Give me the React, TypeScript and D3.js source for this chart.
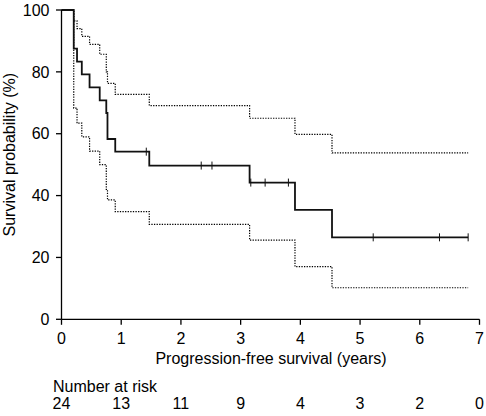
import React from "react";
import * as d3 from "d3";

const eventTimes = [0, 0.205, 0.26, 0.34, 0.47, 0.64, 0.75, 0.77, 0.9, 1.47, 3.15, 3.91, 4.53];
const survival = [100, 87.5, 83.3, 79.2, 75.0, 70.8, 66.7, 58.3, 54.2, 49.7, 44.2, 35.4, 26.5];
const upperCI = [100, 96.5, 94, 91.5, 88.9, 85.7, 80, 76.3, 72.7, 69.1, 65.0, 59.8, 53.8];
const lowerCI = [100, 68.3, 63.4, 59.0, 54.4, 50.0, 42.0, 38.6, 34.8, 30.7, 25.6, 17.0, 10.2];
const endTime = 6.81;
const censorTimes = [1.42, 2.34, 2.52, 3.17, 3.41, 3.8, 5.22, 6.33, 6.81];
const xTicks = [0, 1, 2, 3, 4, 5, 6, 7];
const yTicks = [0, 20, 40, 60, 80, 100];
const atRisk = [24, 13, 11, 9, 4, 3, 2, 0];

const FONT = "'Liberation Sans', Arial, Helvetica, sans-serif";

export default function App() {
  const W = 486, H = 416;
  const x = d3.scaleLinear().domain([0, 7]).range([61.5, 479.5]);
  const y = d3.scaleLinear().domain([0, 100]).range([319.3, 10]);

  const mk = (vals: number[]) => {
    const pts: [number, number][] = eventTimes.map((t, i) => [t, vals[i]]);
    pts.push([endTime, vals[vals.length - 1]]);
    return d3
      .line<[number, number]>()
      .x((d) => x(d[0]))
      .y((d) => y(d[1]))
      .curve(d3.curveStepAfter)(pts) as string;
  };

  const survAt = (t: number) => {
    let v = survival[0];
    eventTimes.forEach((et, i) => {
      if (et <= t) v = survival[i];
    });
    return v;
  };

  const y0 = y(0);
  const x0 = x(0);
  const fs = 16;

  return (
    <svg
      width={W}
      height={H}
      style={{ position: "absolute", left: 0, top: 0, background: "#fff" }}
      fontFamily={FONT}
    >
      <rect x={0} y={0} width={W} height={H} fill="#fff" />
      {/* CI lines */}
      <path d={mk(upperCI)} fill="none" stroke="#000" strokeWidth={1.2} strokeDasharray="1.3,1.3" />
      <path d={mk(lowerCI)} fill="none" stroke="#000" strokeWidth={1.2} strokeDasharray="1.3,1.3" />
      {/* survival */}
      <path d={mk(survival)} fill="none" stroke="#111" strokeWidth={1.8} />
      {censorTimes.map((t, i) => (
        <line key={i} x1={x(t)} x2={x(t)} y1={y(survAt(t)) - 4} y2={y(survAt(t)) + 4} stroke="#111" strokeWidth={1} />
      ))}
      {/* axes */}
      <line x1={x0} x2={x0} y1={y(100)} y2={y0} stroke="#000" strokeWidth={1.3} />
      <line x1={x0} x2={x(7)} y1={y0} y2={y0} stroke="#000" strokeWidth={1.3} />
      {yTicks.map((v) => (
        <g key={v}>
          <line x1={x0 - 5.5} x2={x0} y1={y(v)} y2={y(v)} stroke="#000" strokeWidth={1.3} />
          <text x={x0 - 12} y={y(v)} dy="0.36em" textAnchor="end" fontSize={fs} fill="#000">
            {v}
          </text>
        </g>
      ))}
      {xTicks.map((v) => (
        <g key={v}>
          <line x1={x(v)} x2={x(v)} y1={y0} y2={y0 + 5.5} stroke="#000" strokeWidth={1.3} />
          <text x={x(v)} y={343.5} textAnchor="middle" fontSize={fs} fill="#000">
            {v}
          </text>
        </g>
      ))}
      <text x={(x(0) + x(7)) / 2 + 0.5} y={363.5} textAnchor="middle" fontSize={fs} fill="#000">
        Progression-free survival (years)
      </text>
      <text
        transform={`translate(15,${(y(0) + y(100)) / 2 - 10}) rotate(-90)`}
        textAnchor="middle"
        fontSize={fs}
        fill="#000"
      >
        Survival probability (%)
      </text>
      <text x={53} y={392} fontSize={fs} fill="#000">
        Number at risk
      </text>
      {atRisk.map((n, i) => (
        <text key={i} x={x(xTicks[i])} y={409} textAnchor="middle" fontSize={fs} fill="#000">
          {n}
        </text>
      ))}
    </svg>
  );
}
